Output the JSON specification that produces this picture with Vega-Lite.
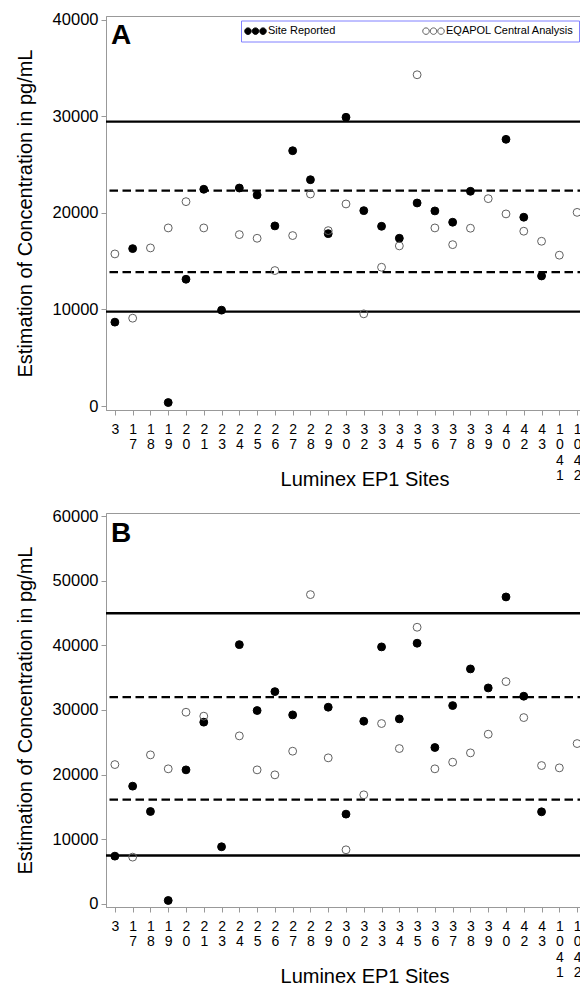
{
  "$schema": "https://vega.github.io/schema/vega-lite/v6.json",
  "background": "white",
  "padding": {"left": 14, "top": 11, "right": 0, "bottom": 0},
  "spacing": 17,
  "config": {
    "font": "Liberation Sans",
    "view": {"stroke": "#999999", "strokeWidth": 1},
    "axis": {"grid": false, "domainColor": "#999999", "tickColor": "#999999", "labelColor": "black", "titleColor": "black", "titleFontWeight": "normal", "labelFont": "Liberation Sans", "titleFont": "Liberation Sans"}
  },
  "datasets": {
    "ptsA": [
      {"site": "3", "series": "Site Reported", "value": 8690},
      {"site": "17", "series": "Site Reported", "value": 16300},
      {"site": "19", "series": "Site Reported", "value": 370},
      {"site": "20", "series": "Site Reported", "value": 13130},
      {"site": "21", "series": "Site Reported", "value": 22440},
      {"site": "23", "series": "Site Reported", "value": 9930},
      {"site": "24", "series": "Site Reported", "value": 22570},
      {"site": "25", "series": "Site Reported", "value": 21850},
      {"site": "26", "series": "Site Reported", "value": 18650},
      {"site": "27", "series": "Site Reported", "value": 26430},
      {"site": "28", "series": "Site Reported", "value": 23430},
      {"site": "29", "series": "Site Reported", "value": 17850},
      {"site": "30", "series": "Site Reported", "value": 29890},
      {"site": "32", "series": "Site Reported", "value": 20230},
      {"site": "33", "series": "Site Reported", "value": 18610},
      {"site": "34", "series": "Site Reported", "value": 17370},
      {"site": "35", "series": "Site Reported", "value": 21020},
      {"site": "36", "series": "Site Reported", "value": 20200},
      {"site": "37", "series": "Site Reported", "value": 19030},
      {"site": "38", "series": "Site Reported", "value": 22230},
      {"site": "40", "series": "Site Reported", "value": 27610},
      {"site": "42", "series": "Site Reported", "value": 19550},
      {"site": "43", "series": "Site Reported", "value": 13470},
      {"site": "3", "series": "EQAPOL Central Analysis", "value": 15750},
      {"site": "17", "series": "EQAPOL Central Analysis", "value": 9100},
      {"site": "18", "series": "EQAPOL Central Analysis", "value": 16370},
      {"site": "19", "series": "EQAPOL Central Analysis", "value": 18440},
      {"site": "20", "series": "EQAPOL Central Analysis", "value": 21160},
      {"site": "21", "series": "EQAPOL Central Analysis", "value": 18440},
      {"site": "24", "series": "EQAPOL Central Analysis", "value": 17750},
      {"site": "25", "series": "EQAPOL Central Analysis", "value": 17370},
      {"site": "26", "series": "EQAPOL Central Analysis", "value": 14030},
      {"site": "27", "series": "EQAPOL Central Analysis", "value": 17650},
      {"site": "28", "series": "EQAPOL Central Analysis", "value": 21950},
      {"site": "29", "series": "EQAPOL Central Analysis", "value": 18160},
      {"site": "30", "series": "EQAPOL Central Analysis", "value": 20920},
      {"site": "32", "series": "EQAPOL Central Analysis", "value": 9550},
      {"site": "33", "series": "EQAPOL Central Analysis", "value": 14370},
      {"site": "34", "series": "EQAPOL Central Analysis", "value": 16580},
      {"site": "35", "series": "EQAPOL Central Analysis", "value": 34290},
      {"site": "36", "series": "EQAPOL Central Analysis", "value": 18440},
      {"site": "37", "series": "EQAPOL Central Analysis", "value": 16710},
      {"site": "38", "series": "EQAPOL Central Analysis", "value": 18410},
      {"site": "39", "series": "EQAPOL Central Analysis", "value": 21470},
      {"site": "40", "series": "EQAPOL Central Analysis", "value": 19890},
      {"site": "42", "series": "EQAPOL Central Analysis", "value": 18100},
      {"site": "43", "series": "EQAPOL Central Analysis", "value": 17060},
      {"site": "1041", "series": "EQAPOL Central Analysis", "value": 15620},
      {"site": "1042", "series": "EQAPOL Central Analysis", "value": 20050}
    ],
    "ptsB": [
      {"site": "3", "series": "Site Reported", "value": 7370},
      {"site": "17", "series": "Site Reported", "value": 18200},
      {"site": "18", "series": "Site Reported", "value": 14280},
      {"site": "19", "series": "Site Reported", "value": 510},
      {"site": "20", "series": "Site Reported", "value": 20720},
      {"site": "21", "series": "Site Reported", "value": 28100},
      {"site": "23", "series": "Site Reported", "value": 8820},
      {"site": "24", "series": "Site Reported", "value": 40100},
      {"site": "25", "series": "Site Reported", "value": 29900},
      {"site": "26", "series": "Site Reported", "value": 32830},
      {"site": "27", "series": "Site Reported", "value": 29230},
      {"site": "29", "series": "Site Reported", "value": 30420},
      {"site": "30", "series": "Site Reported", "value": 13870},
      {"site": "32", "series": "Site Reported", "value": 28250},
      {"site": "33", "series": "Site Reported", "value": 39750},
      {"site": "34", "series": "Site Reported", "value": 28610},
      {"site": "35", "series": "Site Reported", "value": 40320},
      {"site": "36", "series": "Site Reported", "value": 24180},
      {"site": "37", "series": "Site Reported", "value": 30670},
      {"site": "38", "series": "Site Reported", "value": 36340},
      {"site": "39", "series": "Site Reported", "value": 33400},
      {"site": "40", "series": "Site Reported", "value": 47480},
      {"site": "42", "series": "Site Reported", "value": 32120},
      {"site": "43", "series": "Site Reported", "value": 14230},
      {"site": "3", "series": "EQAPOL Central Analysis", "value": 21540},
      {"site": "17", "series": "EQAPOL Central Analysis", "value": 7220},
      {"site": "18", "series": "EQAPOL Central Analysis", "value": 23040},
      {"site": "19", "series": "EQAPOL Central Analysis", "value": 20880},
      {"site": "20", "series": "EQAPOL Central Analysis", "value": 29640},
      {"site": "21", "series": "EQAPOL Central Analysis", "value": 29030},
      {"site": "24", "series": "EQAPOL Central Analysis", "value": 25980},
      {"site": "25", "series": "EQAPOL Central Analysis", "value": 20720},
      {"site": "26", "series": "EQAPOL Central Analysis", "value": 19950},
      {"site": "27", "series": "EQAPOL Central Analysis", "value": 23610},
      {"site": "28", "series": "EQAPOL Central Analysis", "value": 47840},
      {"site": "29", "series": "EQAPOL Central Analysis", "value": 22580},
      {"site": "30", "series": "EQAPOL Central Analysis", "value": 8350},
      {"site": "32", "series": "EQAPOL Central Analysis", "value": 16860},
      {"site": "33", "series": "EQAPOL Central Analysis", "value": 27890},
      {"site": "34", "series": "EQAPOL Central Analysis", "value": 24020},
      {"site": "35", "series": "EQAPOL Central Analysis", "value": 42790},
      {"site": "36", "series": "EQAPOL Central Analysis", "value": 20880},
      {"site": "37", "series": "EQAPOL Central Analysis", "value": 21910},
      {"site": "38", "series": "EQAPOL Central Analysis", "value": 23350},
      {"site": "39", "series": "EQAPOL Central Analysis", "value": 26240},
      {"site": "40", "series": "EQAPOL Central Analysis", "value": 34380},
      {"site": "42", "series": "EQAPOL Central Analysis", "value": 28810},
      {"site": "43", "series": "EQAPOL Central Analysis", "value": 21390},
      {"site": "1041", "series": "EQAPOL Central Analysis", "value": 21030},
      {"site": "1042", "series": "EQAPOL Central Analysis", "value": 24790}
    ],
    "linesA": [
      {"value": 29430, "kind": "solid"},
      {"value": 22300, "kind": "dashed"},
      {"value": 13860, "kind": "dashed"},
      {"value": 9780, "kind": "solid"}
    ],
    "linesB": [
      {"value": 44960, "kind": "solid"},
      {"value": 31970, "kind": "dashed"},
      {"value": 16130, "kind": "dashed"},
      {"value": 7470, "kind": "solid"}
    ],
    "labelA": [{"panel": "A"}],
    "labelB": [{"panel": "B"}]
  },
  "vconcat": [
    {
      "width": 480,
      "height": 394,
      "layer": [
        {
          "data": {"name": "linesA"},
          "mark": {"type": "rule", "strokeWidth": 2.3, "color": "black"},
          "encoding": {
            "y": {"field": "value", "type": "quantitative", "title": "Estimation of Concentration in pg/mL"},
            "strokeDash": {"field": "kind", "type": "nominal", "scale": {"domain": ["solid", "dashed"], "range": [[1, 0], [8.5, 4.5]]}, "legend": null}
          }
        },
        {
          "data": {"name": "ptsA"},
          "mark": {"type": "point", "filled": true, "size": 62, "strokeWidth": 1, "opacity": 1},
          "encoding": {
            "x": {"field": "site", "type": "nominal", "sort": null,
              "scale": {"type": "point", "padding": 0.5, "domain": ["3","17","18","19","20","21","23","24","25","26","27","28","29","30","32","33","34","35","36","37","38","39","40","42","43","1041","1042"]},
              "axis": {"title": "Luminex EP1 Sites", "labelExpr": "split(datum.label, '')", "labelAngle": 0, "labelFontSize": 14, "labelLineHeight": 15.5, "labelPadding": 7, "tickSize": 5, "labelOverlap": false, "labelBound": false, "labelFlush": false, "titleFontSize": 20, "titleX": 258.5, "titleY": 75, "titleBaseline": "alphabetic"}},
            "y": {"field": "value", "type": "quantitative", "title": "Estimation of Concentration in pg/mL",
              "scale": {"domain": [-400, 40370], "nice": false, "zero": false},
              "axis": {"values": [0, 10000, 20000, 30000, 40000], "format": "d", "labelFontSize": 16.5, "labelPadding": 3, "tickSize": 5, "titleFontSize": 20, "titlePadding": 17}},
            "fill": {"field": "series", "type": "nominal", "scale": {"domain": ["Site Reported", "EQAPOL Central Analysis"], "range": ["black", "transparent"]},
              "legend": {"title": null, "orient": "none", "legendX": 135, "legendY": 4.5, "direction": "horizontal", "columns": 2, "symbolType": "M-1.35,0A0.65,0.65 0 1,1 -0.05,0A0.65,0.65 0 1,1 -1.35,0ZM0.15,0A0.65,0.65 0 1,1 1.45,0A0.65,0.65 0 1,1 0.15,0ZM1.65,0A0.65,0.65 0 1,1 2.95,0A0.65,0.65 0 1,1 1.65,0Z", "symbolSize": 100, "symbolStrokeWidth": 1, "labelFontSize": 11, "labelFont": "Liberation Sans", "labelColor": "black", "labelOffset": 11, "columnPadding": 84, "padding": 5, "strokeColor": "#8080ff", "labelExpr": "datum.label == 'EQAPOL Central Analysis' ? datum.label + '      ' : datum.label"}},
            "stroke": {"field": "series", "type": "nominal", "scale": {"domain": ["Site Reported", "EQAPOL Central Analysis"], "range": ["black", "#606060"]},
              "legend": {"title": null, "orient": "none", "legendX": 135, "legendY": 4.5, "direction": "horizontal", "columns": 2, "symbolType": "M-1.35,0A0.65,0.65 0 1,1 -0.05,0A0.65,0.65 0 1,1 -1.35,0ZM0.15,0A0.65,0.65 0 1,1 1.45,0A0.65,0.65 0 1,1 0.15,0ZM1.65,0A0.65,0.65 0 1,1 2.95,0A0.65,0.65 0 1,1 1.65,0Z", "symbolSize": 100, "symbolStrokeWidth": 1, "labelFontSize": 11, "labelFont": "Liberation Sans", "labelColor": "black", "labelOffset": 11, "columnPadding": 84, "padding": 5, "strokeColor": "#8080ff", "labelExpr": "datum.label == 'EQAPOL Central Analysis' ? datum.label + '      ' : datum.label"}}
          }
        },
        {
          "data": {"name": "labelA"},
          "mark": {"type": "text", "font": "Liberation Sans", "fontSize": 28, "fontWeight": "bold", "align": "left", "baseline": "alphabetic", "dx": -4, "color": "black"},
          "encoding": {
            "text": {"field": "panel"},
            "x": {"datum": "3", "type": "nominal"},
            "y": {"datum": 37470, "type": "quantitative", "title": "Estimation of Concentration in pg/mL"}
          }
        }
      ]
    },
    {
      "width": 480,
      "height": 394,
      "layer": [
        {
          "data": {"name": "linesB"},
          "mark": {"type": "rule", "strokeWidth": 2.3, "color": "black"},
          "encoding": {
            "y": {"field": "value", "type": "quantitative", "title": "Estimation of Concentration in pg/mL"},
            "strokeDash": {"field": "kind", "type": "nominal", "scale": {"domain": ["solid", "dashed"], "range": [[1, 0], [8.5, 4.5]]}, "legend": null}
          }
        },
        {
          "data": {"name": "ptsB"},
          "mark": {"type": "point", "filled": true, "size": 62, "strokeWidth": 1, "opacity": 1},
          "encoding": {
            "x": {"field": "site", "type": "nominal", "sort": null,
              "scale": {"type": "point", "padding": 0.5, "domain": ["3","17","18","19","20","21","23","24","25","26","27","28","29","30","32","33","34","35","36","37","38","39","40","42","43","1041","1042"]},
              "axis": {"title": "Luminex EP1 Sites", "labelExpr": "split(datum.label, '')", "labelAngle": 0, "labelFontSize": 14, "labelLineHeight": 15.5, "labelPadding": 7, "tickSize": 5, "labelOverlap": false, "labelBound": false, "labelFlush": false, "titleFontSize": 20, "titleX": 258.5, "titleY": 75, "titleBaseline": "alphabetic"}},
            "y": {"field": "value", "type": "quantitative", "title": "Estimation of Concentration in pg/mL",
              "scale": {"domain": [-500, 60470], "nice": false, "zero": false},
              "axis": {"values": [0, 10000, 20000, 30000, 40000, 50000, 60000], "format": "d", "labelFontSize": 16.5, "labelPadding": 3, "tickSize": 5, "titleFontSize": 20, "titlePadding": 17}},
            "fill": {"field": "series", "type": "nominal", "scale": {"domain": ["Site Reported", "EQAPOL Central Analysis"], "range": ["black", "transparent"]},
              "legend": {"title": null, "orient": "none", "legendX": 135, "legendY": 4.5, "direction": "horizontal", "columns": 2, "symbolType": "M-1.35,0A0.65,0.65 0 1,1 -0.05,0A0.65,0.65 0 1,1 -1.35,0ZM0.15,0A0.65,0.65 0 1,1 1.45,0A0.65,0.65 0 1,1 0.15,0ZM1.65,0A0.65,0.65 0 1,1 2.95,0A0.65,0.65 0 1,1 1.65,0Z", "symbolSize": 100, "symbolStrokeWidth": 1, "labelFontSize": 11, "labelFont": "Liberation Sans", "labelColor": "black", "labelOffset": 11, "columnPadding": 84, "padding": 5, "strokeColor": "#8080ff", "labelExpr": "datum.label == 'EQAPOL Central Analysis' ? datum.label + '      ' : datum.label"}},
            "stroke": {"field": "series", "type": "nominal", "scale": {"domain": ["Site Reported", "EQAPOL Central Analysis"], "range": ["black", "#606060"]},
              "legend": {"title": null, "orient": "none", "legendX": 135, "legendY": 4.5, "direction": "horizontal", "columns": 2, "symbolType": "M-1.35,0A0.65,0.65 0 1,1 -0.05,0A0.65,0.65 0 1,1 -1.35,0ZM0.15,0A0.65,0.65 0 1,1 1.45,0A0.65,0.65 0 1,1 0.15,0ZM1.65,0A0.65,0.65 0 1,1 2.95,0A0.65,0.65 0 1,1 1.65,0Z", "symbolSize": 100, "symbolStrokeWidth": 1, "labelFontSize": 11, "labelFont": "Liberation Sans", "labelColor": "black", "labelOffset": 11, "columnPadding": 84, "padding": 5, "strokeColor": "#8080ff", "labelExpr": "datum.label == 'EQAPOL Central Analysis' ? datum.label + '      ' : datum.label"}}
          }
        },
        {
          "data": {"name": "labelB"},
          "mark": {"type": "text", "font": "Liberation Sans", "fontSize": 28, "fontWeight": "bold", "align": "left", "baseline": "alphabetic", "dx": -4, "color": "black"},
          "encoding": {
            "text": {"field": "panel"},
            "x": {"datum": "3", "type": "nominal"},
            "y": {"datum": 55940, "type": "quantitative", "title": "Estimation of Concentration in pg/mL"}
          }
        }
      ]
    }
  ]
}
